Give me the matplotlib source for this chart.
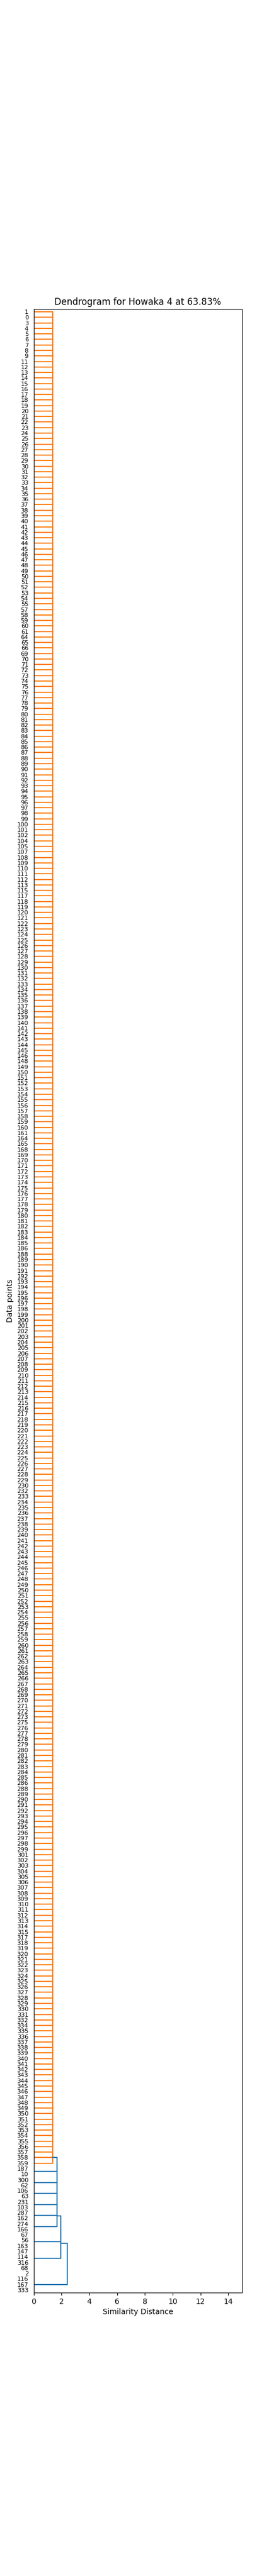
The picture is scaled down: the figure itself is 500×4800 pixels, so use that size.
"""Dendrogram for Howaka 4 (drawn by hand, scipy-style, orientation='right')."""

import matplotlib
matplotlib.use("Agg")
import matplotlib.pyplot as plt

# ----------------------------------------------------------------------------
# leaves of the big (orange) cluster, top to bottom, chained at one height
orange_leaves = [
    1, 0, 3, 4, 5, 6, 7, 8, 9, 11, 12, 13, 14, 15, 16, 17, 18, 19, 20, 21,
    22, 23, 24, 25, 26, 27, 28, 29, 30, 31, 32, 33, 34, 35, 36, 37, 38, 39, 40, 41,
    42, 43, 44, 45, 46, 47, 48, 49, 50, 51, 52, 53, 54, 55, 57, 58, 59, 60, 61, 64,
    65, 66, 69, 70, 71, 72, 73, 74, 75, 76, 77, 78, 79, 80, 81, 82, 83, 84, 85, 86,
    87, 88, 89, 90, 91, 92, 93, 94, 95, 96, 97, 98, 99, 100, 101, 102, 104, 105, 107, 108,
    109, 110, 111, 112, 113, 115, 117, 118, 119, 120, 121, 122, 123, 124, 125, 126, 127, 128, 129, 130,
    131, 132, 133, 134, 135, 136, 137, 138, 139, 140, 141, 142, 143, 144, 145, 146, 148, 149, 150, 151,
    152, 153, 154, 155, 156, 157, 158, 159, 160, 161, 164, 165, 168, 169, 170, 171, 172, 173, 174, 175,
    176, 177, 178, 179, 180, 181, 182, 183, 184, 185, 186, 188, 189, 190, 191, 192, 193, 194, 195, 196,
    197, 198, 199, 200, 201, 202, 203, 204, 205, 206, 207, 208, 209, 210, 211, 212, 213, 214, 215, 216,
    217, 218, 219, 220, 221, 222, 223, 224, 225, 226, 227, 228, 229, 230, 232, 233, 234, 235, 236, 237,
    238, 239, 240, 241, 242, 243, 244, 245, 246, 247, 248, 249, 250, 251, 252, 253, 254, 255, 256, 257,
    258, 259, 260, 261, 262, 263, 264, 265, 266, 267, 268, 269, 270, 271, 272, 273, 275, 276, 277, 278,
    279, 280, 281, 282, 283, 284, 285, 286, 288, 289, 290, 291, 292, 293, 294, 295, 296, 297, 298, 299,
    301, 302, 303, 304, 305, 306, 307, 308, 309, 310, 311, 312, 313, 314, 315, 317, 318, 319, 320, 321,
    322, 323, 324, 325, 326, 327, 328, 329, 330, 331, 332, 334, 335, 336, 337, 338, 339, 340, 341, 342,
    343, 344, 345, 346, 347, 348, 349, 350, 351, 352, 353, 354, 355, 356, 357, 358, 359,
]

# small groups merged at zero distance (top to bottom)
pair_groups = [[187, 10], [300, 62], [106, 63], [231, 103], [287, 162], [274, 166]]
group_a = [67, 56, 163]
group_b = [147, 114, 316]
group_c = [68, 2, 116, 167, 333]

# merge heights
h_orange = 1.38
h_mid = 1.68
h_low = 1.965
h_top = 2.43

TITLE = "Dendrogram for Howaka 4 at 63.83%"


# ----------------------------------------------------------------------------
def node(height, children, color="C0"):
    return {"h": height, "kids": children, "color": color}


tree = node(h_top, [
    node(h_low, [
        node(h_mid, [node(h_orange, orange_leaves, "C1")]
             + [node(0.0, g) for g in pair_groups]),
        node(0.0, group_a),
        node(0.0, group_b),
    ]),
    node(0.0, group_c),
])


def leaf_order(n):
    if not isinstance(n, dict):
        return [n]
    out = []
    for k in n["kids"]:
        out += leaf_order(k)
    return out


labels = leaf_order(tree)
N = len(labels)
ypos = {lab: 10 * (N - 1 - i) + 5 for i, lab in enumerate(labels)}


def draw(ax, n):
    """Return (y, height) of node n; draws its links as a chain of merges."""
    if not isinstance(n, dict):
        return ypos[n], 0.0
    kids = [draw(ax, k) for k in n["kids"]]
    h = n["h"]
    y, hh = kids[0]
    for yk, hk in kids[1:]:
        if h > 0:
            ax.plot([hh, h, h, hk], [y, y, yk, yk], color=n["color"], lw=1.5)
        y, hh = (y + yk) / 2.0, h
    return y, h


fig, ax = plt.subplots(figsize=(5, 48))
draw(ax, tree)

ax.set_ylim(0, 10 * N)
ax.set_yticks([ypos[l] for l in labels])
ax.set_yticklabels([str(l) for l in labels], fontsize=8)
for line in ax.get_yticklines():
    line.set_visible(False)
ax.set_xlim(0, 15)
ax.set_xlabel("Similarity Distance")
ax.set_ylabel("Data points")
ax.set_title(TITLE)

fig.savefig("out.png", dpi=100)
